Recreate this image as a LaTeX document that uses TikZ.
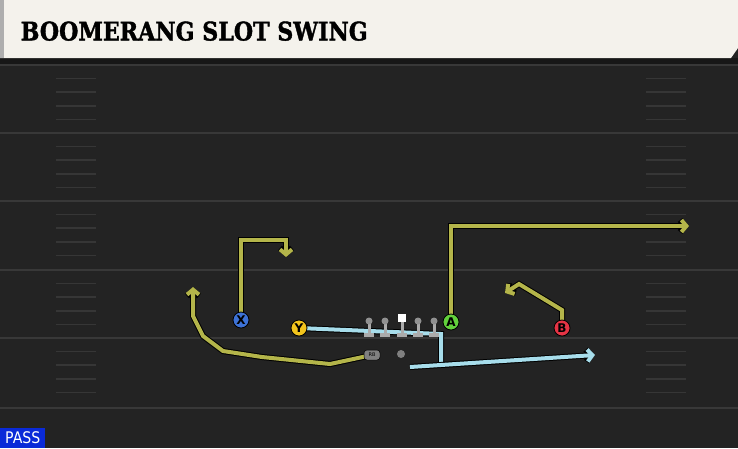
\documentclass[tikz,border=0pt]{standalone}
\usepackage{fontspec}
\setmainfont{DejaVu Sans}
\newfontfamily\titlefont{DejaVu Serif}[BoldFeatures={FakeBold=1.6}]
\usetikzlibrary{arrows.meta,positioning}

\definecolor{fieldbg}{HTML}{232323}
\definecolor{bandbg}{HTML}{171717}
\definecolor{yardline}{HTML}{383838}
\definecolor{hashmark}{HTML}{363636}
\definecolor{titlebg}{HTML}{F4F2EC}
\definecolor{titleedge}{HTML}{AEAEAE}
\definecolor{olive}{HTML}{B4B54A}
\definecolor{skyblue}{HTML}{A7DDEB}
\definecolor{xblue}{HTML}{3D72D6}
\definecolor{yyellow}{HTML}{F2C41D}
\definecolor{agreen}{HTML}{62D13C}
\definecolor{bred}{HTML}{E53445}
\definecolor{linegray}{HTML}{ABABAB}
\definecolor{passblue}{HTML}{0A2AD8}

\tikzstyle{player} = [circle, draw=black, line width=0.8pt, minimum size=16pt, inner sep=0pt, font=\bfseries\fontsize{12}{12}\selectfont]
\tikzstyle{route} = [draw=olive, line width=4pt, -{Straight Barb[length=5pt,width=12pt]}, preaction={draw=black, line width=6pt}]
\tikzstyle{motion} = [draw=skyblue, line width=4pt, preaction={draw=black, line width=6pt}]
\tikzstyle{swing} = [motion, -{Straight Barb[length=5pt,width=12pt]}]
\tikzstyle{lineman} = [circle, fill=linegray!85!black, minimum size=7pt, inner sep=0pt]
\tikzstyle{hash} = [draw=hashmark, line width=1.5pt]

\begin{document}
\begin{tikzpicture}[x=1pt, y=-1pt]
	\useasboundingbox (0,0) rectangle (738,448);
	% field
	\fill[fieldbg] (0,0) rectangle (738,448);
	\fill[bandbg] (0,58) rectangle (738,64);
	\foreach \ly in {65,133,201,270,338,408}
		\draw[yardline, line width=2pt] (0,\ly) -- (738,\ly);
	\foreach \ly in {65,133,201,270,338}
		\foreach \k in {1,2,3,4} {
			\draw[hash] (56,\ly+13.6*\k) -- (96,\ly+13.6*\k);
			\draw[hash] (646,\ly+13.6*\k) -- (686,\ly+13.6*\k);
		}

	% title bar
	\fill[titlebg] (0,0) -- (738,0) -- (738,48) -- (731,58) -- (0,58) -- cycle;
	\fill[titleedge] (0,0) rectangle (4,58);
	\node[anchor=south west, inner sep=0pt] (title) at (20.5,41) {\resizebox{347pt}{19pt}{\titlefont\bfseries BOOMERANG SLOT SWING}};

	% players
	\coordinate (X) at (241,320);
	\coordinate (Y) at (299,328);
	\coordinate (A) at (451,322);
	\coordinate (B) at (562,328);
	\coordinate (RB) at (372,355);

	% route breaks
	\coordinate (x1) at (241,240);
	\coordinate (x2) at (286,240);
	\coordinate (x3) at (286,257);
	\coordinate (a1) at (451,226);
	\coordinate (a2) at (689,226);
	\coordinate (b1) at (562,310);
	\coordinate (b2) at (519,284);
	\coordinate (b3) at (505,293);
	\coordinate (y1) at (441,334);
	\coordinate (y2) at (441,367);
	\coordinate (y3) at (410,367);
	\coordinate (y4) at (595,355);

	\draw [motion] (Y) -- (y1) -- (y2);
	\draw [swing] (y3) -- (y4);
	\draw [route] (X) -- (x1) -- (x2) -- (x3);
	\draw [route] (A) -- (a1) -- (a2);
	\draw [route] (B) -- (b1) -- (b2) -- (b3);
	\draw [route] (RB) -- (330,364) -- (262,357) -- (223,351) -- (203,336) -- (193,316) -- (193,287);

	% offensive line
	\foreach \name/\px in {lt/369, lg/385, c/402, rg/418, rt/434} {
		\fill[linegray] (\px-5,333) rectangle (\px+5,337);
		\fill[linegray] (\px-1.5,321) rectangle (\px+1.5,334);
	}
	\foreach \name/\px in {lt/369, lg/385, rg/418, rt/434}
		\node[lineman] (\name) at (\px,321) {};
	\node[fill=white, minimum size=8pt, inner sep=0pt] (c) at (402,318) {};
	\node[circle, fill=gray, minimum size=8pt, inner sep=0pt] (ball) at (401,354) {};

	\node[player, fill=xblue] (px) at (X) {X};
	\node[player, fill=yyellow] (py) at (Y) {Y};
	\node[player, fill=agreen] (pa) at (A) {A};
	\node[player, fill=bred] (pb) at (B) {B};
	\node[fill=linegray!75!black, draw=black, line width=0.5pt, rounded corners=3pt, minimum width=16pt, minimum height=10pt, inner sep=0pt, font=\fontsize{5}{5}\selectfont] (prb) at (RB) {RB};

	% play type
	\node[fill=passblue, text=white, anchor=south west, minimum width=45pt, minimum height=20pt, inner sep=0pt, font=\fontsize{16}{16}\selectfont] (pass) at (0,448) {\scalebox{0.88}[1]{PASS}};
\end{tikzpicture}
\end{document}
